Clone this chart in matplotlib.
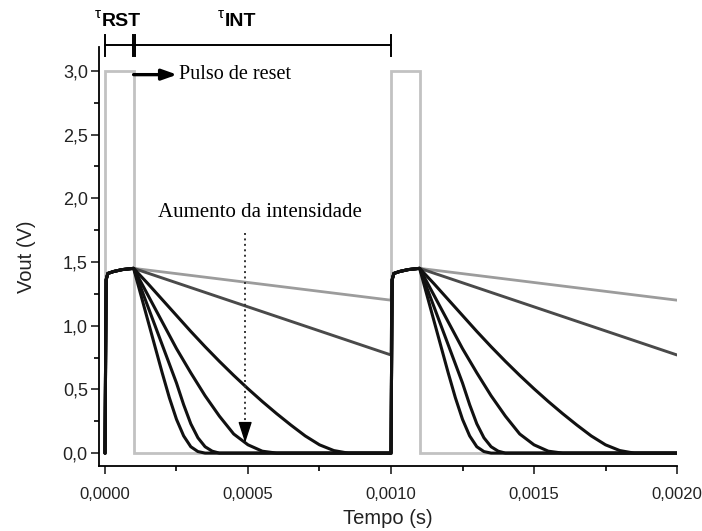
import matplotlib
matplotlib.use("Agg")
import matplotlib.pyplot as plt
import numpy as np

plt.rcParams["font.family"] = ["Liberation Sans", "DejaVu Sans"]

# ---- axis ticks ----
x_ticks = [0.0, 0.0005, 0.0010, 0.0015, 0.0020]
x_tick_labels = ["0,0000", "0,0005", "0,0010", "0,0015", "0,0020"]
y_ticks = [0.0, 0.5, 1.0, 1.5, 2.0, 2.5, 3.0]
y_tick_labels = ["0,0", "0,5", "1,0", "1,5", "2,0", "2,5", "3,0"]

# ---- reset pulse (gray square wave) ----
pulse_t = [0.0, 0.0, 0.0001, 0.0001, 0.0010, 0.0010, 0.0011, 0.0011, 0.0020]
pulse_v = [0.0, 3.0, 3.0, 0.0, 0.0, 3.0, 3.0, 0.0, 0.0]

period = 0.0010
reset_len = 0.0001

# Vout during reset (time since the pulse rising edge)
reset_t = [0.000004, 0.00001, 0.00003, 0.00006, 0.0001]
reset_v = [1.36, 1.41, 1.425, 1.44, 1.45]

# Vout during integration (time since end of reset), one array per intensity
dim_light_dt = [0.0, 0.0009]
dim_light_v = [1.45, 1.20]

low_light_dt = [0.0, 0.0009]
low_light_v = [1.45, 0.77]

mid_light_dt = [0.0, 0.00005, 0.0001, 0.00015, 0.0002, 0.00025, 0.0003, 0.00035,
                0.0004, 0.00045, 0.0005, 0.00055, 0.0006, 0.00065, 0.0007, 0.00075, 0.0009]
mid_light_v = [1.45, 1.33, 1.205, 1.08, 0.955, 0.835, 0.72, 0.61,
               0.505, 0.405, 0.31, 0.22, 0.135, 0.065, 0.02, 0.0, 0.0]

high_light_dt = [0.0, 0.00005, 0.0001, 0.00015, 0.0002, 0.00025, 0.0003, 0.00035,
                 0.0004, 0.00045, 0.0005, 0.0009]
high_light_v = [1.45, 1.24, 1.03, 0.82, 0.63, 0.45, 0.29, 0.15,
                0.065, 0.015, 0.0, 0.0]

higher_light_dt = [0.0, 0.00005, 0.0001, 0.00015, 0.000175, 0.0002, 0.000225,
                   0.00025, 0.000275, 0.0003, 0.0009]
higher_light_v = [1.45, 1.15, 0.85, 0.55, 0.38, 0.23, 0.12, 0.05, 0.015, 0.0, 0.0]

highest_light_dt = [0.0, 0.000025, 0.00005, 0.000075, 0.0001, 0.000125, 0.00015,
                    0.000175, 0.0002, 0.000225, 0.00025, 0.0009]
highest_light_v = [1.45, 1.245, 1.04, 0.835, 0.63, 0.435, 0.265, 0.135, 0.05, 0.012,
                   0.0, 0.0]

curves = [
    (dim_light_dt, dim_light_v, "#9c9c9c", 2.0),
    (low_light_dt, low_light_v, "#4a4a4a", 2.1),
    (mid_light_dt, mid_light_v, "#111111", 2.2),
    (high_light_dt, high_light_v, "#111111", 2.2),
    (higher_light_dt, higher_light_v, "#111111", 2.2),
    (highest_light_dt, highest_light_v, "#111111", 2.2),
]


def two_periods(dt, v):
    """Vout over two reset/integration cycles."""
    t_all, v_all = [0.0], [0.0]
    for k in range(2):
        t0 = k * period
        t_all += [t0 + r for r in reset_t]
        v_all += list(reset_v)
        t_all += [t0 + reset_len + d for d in dt]
        v_all += list(v)
    return np.array(t_all), np.array(v_all)


fig = plt.figure(figsize=(7.02, 5.31), dpi=100)
ax = fig.add_axes([0.141, 0.1215, 0.8234, 0.79])

ax.plot(pulse_t, pulse_v, color="#c2c2c2", lw=2.0, zorder=1,
        solid_joinstyle="miter")

for dt, v, col, lw in curves:
    t_all, v_all = two_periods(dt, v)
    ax.plot(t_all, v_all, color=col, lw=lw, zorder=2, solid_joinstyle="round",
            solid_capstyle="round")

ax.set_xlim(-0.000021, 0.0020)
ax.set_ylim(-0.105, 3.187)

ax.set_xticks(x_ticks)
ax.set_xticklabels(x_tick_labels)
ax.set_yticks(y_ticks)
ax.set_yticklabels(y_tick_labels)
ax.set_xticks(np.arange(0.00025, 0.0020, 0.0005), minor=True)
ax.set_yticks(np.arange(0.25, 3.2, 0.5), minor=True)
ax.tick_params(which="major", direction="out", length=6, width=1.2,
               colors="#222222")
ax.tick_params(which="minor", direction="out", length=3.5, width=1.2)
ax.tick_params(axis="y", pad=2, labelsize=13)
ax.tick_params(axis="x", pad=9, labelsize=12)

for side in ("top", "right"):
    ax.spines[side].set_visible(False)
for side in ("left", "bottom"):
    ax.spines[side].set_linewidth(1.3)

ax.set_xlabel("Tempo (s)", fontsize=14.5, labelpad=5, color="#222222")
ax.set_ylabel("Vout (V)", fontsize=14.5, labelpad=19, color="#222222")

# ---- timing brackets above the plot ----
yb, yb_lo, yb_hi = 3.20, 3.115, 3.28
bk = dict(color="k", lw=1.4, clip_on=False)
ax.plot([0.0, 0.0000975], [yb, yb], **bk)
ax.plot([0.000105, 0.00100], [yb, yb], **bk)
for xv in (0.0, 0.0000975, 0.000105, 0.00100):
    ax.plot([xv, xv], [yb_lo, yb_hi], **bk)

fig.text(95 / 702, 1 - 18 / 531, "τ", fontsize=11, ha="left", va="baseline")
fig.text(102 / 702, 1 - 26 / 531, "RST", fontsize=14, fontweight="bold",
         ha="left", va="baseline")
fig.text(218 / 702, 1 - 18 / 531, "τ", fontsize=11, ha="left", va="baseline")
fig.text(225 / 702, 1 - 26 / 531, "INT", fontsize=14, fontweight="bold",
         ha="left", va="baseline")

# ---- reset pulse label ----
ax.annotate("", xy=(0.000252, 2.97), xytext=(0.0001, 2.97),
            arrowprops=dict(arrowstyle="-|>,head_length=0.9,head_width=0.32",
                            color="k", lw=2.4, mutation_scale=10,
                            shrinkA=0, shrinkB=0))
ax.text(0.000260, 2.97, "Pulso de reset", fontsize=14.5,
        family="Liberation Serif", ha="left", va="center")

# ---- intensity arrow ----
ax.text(0.000542, 1.89, "Aumento da intensidade", fontsize=15,
        family="Liberation Serif", ha="center", va="center")
ax.plot([0.00049, 0.00049], [1.73, 0.2], color="#333333", lw=1.4,
        linestyle=(0, (1, 1.8)))
ax.annotate("", xy=(0.00049, 0.08), xytext=(0.00049, 0.22),
            arrowprops=dict(arrowstyle="-|>,head_length=1.3,head_width=0.42",
                            color="k", lw=1, mutation_scale=10,
                            shrinkA=0, shrinkB=0))

fig.savefig("out.png", dpi=100, facecolor="white")
